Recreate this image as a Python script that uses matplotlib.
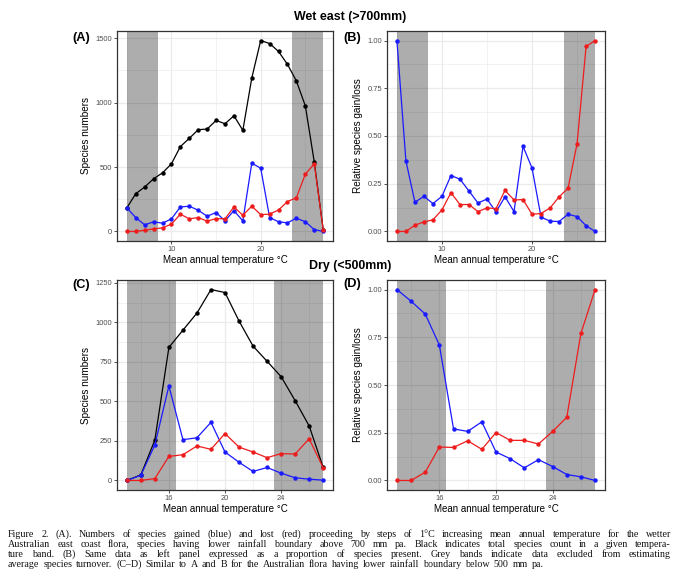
import matplotlib
matplotlib.use("Agg")
import matplotlib.pyplot as plt
import numpy as np

# ---------------- data ----------------
temp_wet = list(range(5, 28))
wet_total = [183, 293, 345, 409, 455, 525, 659, 723, 790, 795, 862, 836, 898, 785,
             1191, 1482, 1459, 1397, 1297, 1168, 975, 540, 15]
wet_gain = [183, 108, 51, 75, 64, 98, 190, 196, 165, 118, 147, 82, 162, 82,
            530, 491, 108, 75, 67, 103, 75, 15, 0]
wet_loss = [0, 0, 10, 20, 28, 57, 134, 98, 108, 80, 100, 98, 190, 126,
            196, 131, 134, 167, 232, 262, 445, 525, 15]
wet_gain_rel = [1.00, 0.37, 0.153, 0.184, 0.146, 0.184, 0.293, 0.274, 0.212, 0.149,
                0.170, 0.102, 0.182, 0.104, 0.446, 0.332, 0.075, 0.054, 0.052,
                0.090, 0.078, 0.030, 0.0]
wet_loss_rel = [0.0, 0.0, 0.033, 0.050, 0.061, 0.113, 0.203, 0.141, 0.141, 0.104,
                0.123, 0.120, 0.215, 0.165, 0.167, 0.090, 0.094, 0.123, 0.181,
                0.227, 0.460, 0.969, 1.00]
wet_bands = [(5, 8.5), (23.5, 27)]

temp_dry = list(range(13, 28))
dry_total = [0, 35, 256, 842, 951, 1059, 1208, 1189, 1009, 850, 754, 657, 505, 345, 82]
dry_gain = [0, 33, 225, 598, 258, 270, 368, 180, 115, 57, 82, 46, 17, 8, 2]
dry_loss = [0, 0, 12, 152, 163, 218, 197, 297, 211, 180, 144, 170, 167, 264, 80]
dry_gain_rel = [1.00, 0.939, 0.872, 0.709, 0.270, 0.257, 0.307, 0.149, 0.114, 0.066,
                0.109, 0.073, 0.031, 0.019, 0.0]
dry_loss_rel = [0.0, 0.0, 0.043, 0.175, 0.173, 0.208, 0.163, 0.251, 0.210, 0.210,
                0.191, 0.257, 0.331, 0.771, 1.00]
dry_bands = [(13, 16.5), (23.5, 27)]

wet_xticks = [10, 20]
wet_xminor = [5, 15, 25]
dry_xticks = [16, 20, 24]
dry_xminor = [14, 18, 22, 26]
num_yticks_wet = [0, 500, 1000, 1500]
num_yminor_wet = [250, 750, 1250]
num_yticks_dry = [0, 250, 500, 750, 1000, 1250]
num_yminor_dry = [125, 375, 625, 875, 1125]
rel_yticks = [0.0, 0.25, 0.5, 0.75, 1.0]
rel_ylabels = ["0.00", "0.25", "0.50", "0.75", "1.00"]
rel_yminor = [0.125, 0.375, 0.625, 0.875]

caption_lines = [
    "Figure 2. (A). Numbers of species gained (blue) and lost (red) proceeding by steps of 1°C increasing mean annual temperature for the wetter",
    "Australian east coast flora, species having lower rainfall boundary above 700 mm pa. Black indicates total species count in a given tempera-",
    "ture band. (B) Same data as left panel expressed as a proportion of species present. Grey bands indicate data excluded from estimating",
    "average species turnover. (C\u2013D) Similar to A and B for the Australian flora having lower rainfall boundary below 500 mm pa.",
]

# ---------------- figure ----------------
W, H = 680, 584
DPI = 100
plt.rcParams['font.family'] = ['Liberation Sans', 'DejaVu Sans']
fig = plt.figure(figsize=(W / DPI, H / DPI), dpi=DPI)
fig.patch.set_facecolor('white')


def ax_rect(left, top, right, bottom):
    return [left / W, 1 - bottom / H, (right - left) / W, (bottom - top) / H]


def style_axes(ax, x, series, bands, xticks, xminor, yticks, yminor, ylabels=None,
               ylabel=""):
    allv = np.concatenate([np.asarray(s, float) for s, _ in series])
    lo, hi = allv.min(), allv.max()
    pad = 0.05 * (hi - lo)
    ax.set_ylim(lo - pad, hi + pad)
    xpad = 0.05 * (max(x) - min(x))
    ax.set_xlim(min(x) - xpad, max(x) + xpad)
    for v in xminor:
        ax.axvline(v, color='#ebebeb', lw=0.45, zorder=0)
    for v in yminor:
        ax.axhline(v, color='#ebebeb', lw=0.45, zorder=0)
    for v in xticks:
        ax.axvline(v, color='#ebebeb', lw=0.9, zorder=0)
    for v in yticks:
        ax.axhline(v, color='#ebebeb', lw=0.9, zorder=0)
    for a, b in bands:
        ax.axvspan(a, b, facecolor='black', alpha=0.32, lw=0, zorder=1)
    for vals, col in series:
        ax.plot(x, vals, color=col, lw=0.9, marker='o', ms=3.2, zorder=3,
                markeredgewidth=0)
    ax.set_xticks(xticks)
    ax.set_yticks(yticks)
    if ylabels is not None:
        ax.set_yticklabels(ylabels)
    ax.tick_params(labelsize=5.4, colors='#333333', labelcolor='#4d4d4d',
                   length=2, width=0.6, pad=1.5)
    for sp in ax.spines.values():
        sp.set_color('#333333')
        sp.set_linewidth(0.9)
    ax.set_xlabel("Mean annual temperature °C", fontsize=7.0, labelpad=1.5, color='black')
    ax.set_ylabel(ylabel, fontsize=7.2, labelpad=3, color='black')


axA = fig.add_axes(ax_rect(117, 31, 333, 241))
axB = fig.add_axes(ax_rect(387, 31, 605, 241))
axC = fig.add_axes(ax_rect(117, 280, 333, 490))
axD = fig.add_axes(ax_rect(387, 280, 605, 490))

style_axes(axA, temp_wet, [(wet_total, 'black'), (wet_gain, '#1a1aff'), (wet_loss, '#ee1c1c')],
           wet_bands, wet_xticks, wet_xminor, num_yticks_wet, num_yminor_wet,
           ylabel="Species numbers")
style_axes(axB, temp_wet, [(wet_gain_rel, '#1a1aff'), (wet_loss_rel, '#ee1c1c')],
           wet_bands, wet_xticks, wet_xminor, rel_yticks, rel_yminor, rel_ylabels,
           ylabel="Relative species gain/loss")
style_axes(axC, temp_dry, [(dry_total, 'black'), (dry_gain, '#1a1aff'), (dry_loss, '#ee1c1c')],
           dry_bands, dry_xticks, dry_xminor, num_yticks_dry, num_yminor_dry,
           ylabel="Species numbers")
style_axes(axD, temp_dry, [(dry_gain_rel, '#1a1aff'), (dry_loss_rel, '#ee1c1c')],
           dry_bands, dry_xticks, dry_xminor, rel_yticks, rel_yminor, rel_ylabels,
           ylabel="Relative species gain/loss")

fig.text(350 / W, 1 - 17 / H, "Wet east (>700mm)", ha='center', va='center',
         fontsize=8.9, fontweight='bold')
fig.text(350 / W, 1 - 266 / H, "Dry (<500mm)", ha='center', va='center',
         fontsize=8.9, fontweight='bold')
for lbl, px, py in [("(A)", 81, 38), ("(B)", 352, 38), ("(C)", 81, 285), ("(D)", 352, 284)]:
    fig.text(px / W, 1 - py / H, lbl, ha='center', va='center', fontsize=9.2,
             fontweight='bold')

# ---------------- caption: word-by-word, justified ----------------
renderer = fig.canvas.get_renderer()
cap_left, cap_right = 8, 671
target = cap_right - cap_left
first_baseline = 537
line_gap = 10.0
serif = ['Liberation Serif', 'DejaVu Serif']


def extent_of(s, size):
    t = fig.text(0, 0, s, fontsize=size, family=serif)
    bb = t.get_window_extent(renderer)
    t.remove()
    return bb.width, bb.height


fit_size = 10 * target / extent_of(caption_lines[0], 10)[0]
h10 = extent_of("Figure (lp)", 10)[1]
max_size = 10 * (line_gap - 0.3) / h10
cap_size = min(fit_size, max_size)

for i, line in enumerate(caption_lines):
    yb = 1 - (first_baseline + i * line_gap) / H
    words = line.split(" ")
    objs = [fig.text(0, yb, w, ha='left', va='baseline', family=serif,
                     fontsize=cap_size, color='#111111') for w in words]
    widths = [o.get_window_extent(renderer).width for o in objs]
    if i < len(caption_lines) - 1:
        gap = (target - sum(widths)) / (len(words) - 1)
    else:
        natural = extent_of(line, cap_size)[0]
        gap = max((natural - sum(widths)) / (len(words) - 1), 0) * 1.35 + 0.6
    xpos = cap_left
    for o, wd in zip(objs, widths):
        o.set_x(xpos / W)
        xpos += wd + gap

fig.savefig("out.png", dpi=DPI, facecolor='white')
